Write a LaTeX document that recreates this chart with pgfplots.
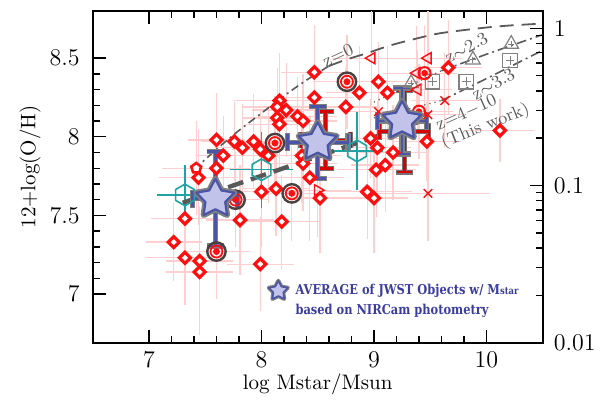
\documentclass[border=0pt]{standalone}
\usepackage{pgfplots}
\pgfplotsset{compat=1.18}
\usepackage{pgfplotstable}
\usepackage{fontspec}
\newfontfamily\slabfont[FakeStretch=0.84]{DejaVu Serif}
\usetikzlibrary{plotmarks}

\definecolor{dred}{HTML}{FF1010}
\definecolor{pinkerr}{HTML}{FFCFCF}
\definecolor{tealc}{HTML}{1FA3A3}
\definecolor{starfill}{HTML}{C2C3EA}
\definecolor{starblue}{HTML}{4B55A6}
\definecolor{ringgray}{HTML}{4A4040}
\definecolor{curvegray}{HTML}{5A5A5A}
\definecolor{lblue}{HTML}{3A3C9E}

\pgfdeclareplotmark{fstar}{%
  \pgfpathmoveto{\pgfpointpolar{90}{\pgfplotmarksize}}%
  \pgfpathlineto{\pgfpointpolar{126}{0.52\pgfplotmarksize}}%
  \pgfpathlineto{\pgfpointpolar{162}{\pgfplotmarksize}}%
  \pgfpathlineto{\pgfpointpolar{198}{0.52\pgfplotmarksize}}%
  \pgfpathlineto{\pgfpointpolar{234}{\pgfplotmarksize}}%
  \pgfpathlineto{\pgfpointpolar{270}{0.52\pgfplotmarksize}}%
  \pgfpathlineto{\pgfpointpolar{306}{\pgfplotmarksize}}%
  \pgfpathlineto{\pgfpointpolar{342}{0.52\pgfplotmarksize}}%
  \pgfpathlineto{\pgfpointpolar{18}{\pgfplotmarksize}}%
  \pgfpathlineto{\pgfpointpolar{54}{0.52\pgfplotmarksize}}%
  \pgfpathclose
  \pgfusepathqfillstroke}
\pgfdeclareplotmark{hexa}{%
  \pgfpathmoveto{\pgfpointpolar{90}{\pgfplotmarksize}}%
  \pgfpathlineto{\pgfpointpolar{150}{\pgfplotmarksize}}%
  \pgfpathlineto{\pgfpointpolar{210}{\pgfplotmarksize}}%
  \pgfpathlineto{\pgfpointpolar{270}{\pgfplotmarksize}}%
  \pgfpathlineto{\pgfpointpolar{330}{\pgfplotmarksize}}%
  \pgfpathlineto{\pgfpointpolar{30}{\pgfplotmarksize}}%
  \pgfpathclose
  \pgfusepathqstroke}

\pgfplotsset{
  errs/.style n args={2}{draw=none, mark=none, forget plot,
    error bars/.cd, x dir=both, x explicit, y dir=both, y explicit,
    error bar style={draw=#1, line width=#2}, error mark=none},
  errsm/.style n args={4}{draw=none, mark=none, forget plot,
    error bars/.cd, x dir=both, x explicit, y dir=both, y explicit,
    error bar style={draw=#1, line width=#2}, error mark=-,
    error mark options={rotate=90, mark size=#3, draw=#1, line width=#4}},
}

% red diamonds: x y ex ey
\pgfplotstableread{
x y ex ey
7.60 7.98 0.25 0.30
7.76 7.97 0.30 0.25
7.83 7.93 0.25 0.28
7.93 7.97 0.30 0.30
7.60 7.80 0.30 0.35
7.66 7.88 0.25 0.25
7.44 7.74 0.35 0.30
8.47 8.41 0.30 0.30
8.47 8.25 0.35 0.30
8.16 8.23 0.40 0.30
8.14 8.19 0.30 0.25
8.22 8.17 0.30 0.30
8.32 8.13 0.35 0.25
8.14 8.12 0.30 0.25
8.16 8.08 0.30 0.30
8.75 8.19 0.30 0.25
8.06 7.88 0.30 0.30
8.36 7.88 0.35 0.30
8.37 7.83 0.30 0.30
8.43 7.74 0.30 0.40
7.32 7.48 0.30 0.30
7.22 7.33 0.25 0.25
7.32 7.23 0.35 0.30
7.45 7.21 0.30 0.35
7.45 7.14 0.30 0.40
7.81 7.47 0.30 0.35
8.00 7.65 0.35 0.35
8.13 7.67 0.30 0.30
8.18 7.46 0.35 0.30
7.99 7.19 0.30 0.30
8.52 7.61 0.30 0.35
9.02 7.79 0.35 0.30
9.10 7.82 0.30 0.30
8.94 7.65 0.40 0.30
9.00 7.61 0.30 0.35
9.04 8.35 0.35 0.25
9.12 8.28 0.30 0.30
8.87 8.28 0.30 0.30
8.37 8.10 0.30 0.30
8.97 7.99 0.30 0.25
9.03 7.93 0.30 0.30
9.66 8.44 0.30 0.30
10.12 8.04 0.30 0.20
9.17 7.90 0.30 0.30
7.99 7.92 0.25 0.25
9.47 7.97 0.30 0.25
}\diam

% other red symbols with pink errors
\pgfplotstableread{
x y ex ey
7.42 7.80 0.30 0.30
8.98 8.50 0.35 0.30
9.48 8.50 0.30 0.30
9.39 8.30 0.30 0.25
9.38 8.405 0.30 0.30
8.50 7.66 0.30 0.30
9.63 8.23 0.30 0.30
9.48 8.14 0.30 0.25
9.04 8.16 0.30 0.25
9.48 7.64 0.55 0.30
9.45 8.405 0.30 0.30
9.40 8.16 0.30 0.30
8.12 7.96 0.35 0.30
8.76 8.35 0.30 0.30
8.27 7.64 0.30 0.30
7.60 7.27 0.30 0.30
7.77 7.60 0.30 0.30
}\others

\pgfplotstableread{
x y
7.42 7.80
}\pent
\pgfplotstableread{
x y
8.98 8.50
9.48 8.50
9.39 8.30
9.38 8.405
}\ltri
\pgfplotstableread{
x y
8.50 7.66
}\rtri
\pgfplotstableread{
x y
9.63 8.23
9.48 8.14
9.04 8.16
9.48 7.64
}\crosses
\pgfplotstableread{
x y
9.45 8.405
9.40 8.16
}\rcirc
\pgfplotstableread{
x y
8.12 7.96
8.76 8.35
8.27 7.64
7.60 7.27
7.77 7.60
}\bulls

% teal hexagons
\pgfplotstableread{
x y ex ey
7.32 7.63 0.25 0.19
8.00 7.79 0.28 0.24
8.85 7.91 0.23 0.25
}\hexd

% gray triangles (z~2.3) and squares (z~3.3)
\pgfplotstableread{
x y
9.88 8.49
10.22 8.59
9.33 8.34
}\gtri
\pgfplotstableread{
x y
9.52 8.35
9.82 8.35
10.21 8.485
}\gsq

% red big error bars
\pgfplotstableread{
x y ex ey
8.57 7.98 0.22 0.18
9.27 8.035 0.22 0.26
}\redbig

% average of JWST objects
\pgfplotstableread{
x y ex ey
7.59 7.605 0.20 0.30
8.50 7.965 0.27 0.23
9.25 8.10 0.22 0.21
}\avg

\begin{document}
\begin{tikzpicture}
\useasboundingbox (-46.35pt,-32.65pt) rectangle (260.15pt,171.35pt);
\begin{axis}[
  at={(0,0)}, anchor=south west,
  scale only axis, width=225pt, height=165.85pt,
  xmin=6.5, xmax=10.5, ymin=6.69, ymax=8.8,
  xtick={7,8,9,10}, minor x tick num=4,
  ytick={7,7.5,8,8.5}, minor y tick num=4,
  ytick pos=left,
  tick align=inside,
  major tick length=6.5pt, minor tick length=3.5pt,
  every tick/.style={black, line width=0.7pt},
  axis line style={line width=1pt},
  tick label style={font=\fontsize{12}{14}\selectfont},
  yticklabel style={xshift=-3pt},
  xticklabel style={yshift=-1pt},
  xlabel={log Mstar/Msun},
  ylabel={12+log(O/H)},
  label style={font=\fontsize{10.5}{13}\selectfont},
  xlabel style={at={(axis description cs:0.5,-0.1245)}, anchor=center},
  ylabel style={at={(axis description cs:-0.139,0.53)}, anchor=center},
  clip=true,
]
% pink error bars
\addplot[errs={pinkerr}{0.6pt}] table[x=x,y=y,x error=ex,y error=ey]{\diam};
\addplot[errs={pinkerr}{0.6pt}] table[x=x,y=y,x error=ex,y error=ey]{\others};
% teal error bars
\addplot[errs={tealc}{0.6pt}] table[x=x,y=y,x error=ex,y error=ey]{\hexd};

% curves: z=0
\addplot[curvegray, line width=0.8pt, dash pattern=on 4pt off 2pt on 1pt off 2pt, smooth] coordinates {
(7.4,7.79) (7.6,7.92) (7.8,8.04) (8.0,8.15) (8.2,8.26) (8.4,8.36) (8.6,8.45)};
\addplot[curvegray, line width=0.9pt, dash pattern=on 7pt off 4pt, smooth] coordinates {
(8.6,8.45) (8.75,8.49) (8.93,8.53) (9.14,8.58) (9.35,8.62) (9.56,8.655) (9.76,8.675) (10.0,8.695) (10.21,8.708) (10.5,8.72)};
% z~2.3
\addplot[curvegray, line width=0.6pt, dotted] coordinates {(9.0,8.22) (9.6,8.42)};
\addplot[curvegray, line width=0.8pt, dash pattern=on 5pt off 2pt on 1pt off 2pt] coordinates {(9.6,8.42) (10.0,8.525) (10.5,8.65)};
% z~3.3
\addplot[curvegray, line width=0.6pt, dotted] coordinates {(9.0,8.12) (9.6,8.23)};
\addplot[curvegray, line width=0.8pt, dash pattern=on 5pt off 2pt on 1pt off 2pt] coordinates {(9.6,8.23) (10.0,8.37) (10.5,8.55)};

% gray triangles and squares
\addplot[only marks, mark=triangle, mark size=4.2pt, mark options={draw=gray, line width=0.6pt}] table{\gtri};
\addplot[only marks, mark=+, mark size=1.6pt, mark options={draw=gray, line width=0.5pt}] table{\gtri};
\addplot[only marks, mark=square, mark size=3.6pt, mark options={draw=gray, line width=0.6pt}] table{\gsq};
\addplot[only marks, mark=+, mark size=2.2pt, mark options={draw=gray, line width=0.5pt}] table{\gsq};

% red symbols
\addplot[only marks, mark=square*, mark size=1.95pt, mark options={rotate=45, draw=dred, fill=white, line width=1.6pt}] table[x=x,y=y]{\diam};
\addplot[only marks, mark=pentagon*, mark size=2.6pt, mark options={draw=dred, fill=white, line width=1.3pt}] table{\pent};
\addplot[only marks, mark=triangle, mark size=3.2pt, mark options={rotate=90, draw=dred, fill=none, line width=0.7pt}] table{\ltri};
\addplot[only marks, mark=triangle, mark size=3.2pt, mark options={rotate=-90, draw=dred, fill=none, line width=0.7pt}] table{\rtri};
\addplot[only marks, mark=x, mark size=3pt, mark options={draw=dred, line width=0.7pt}] table{\crosses};
\addplot[only marks, mark=o, mark size=3pt, mark options={draw=dred, fill=white, line width=1pt}] table{\rcirc};
\addplot[only marks, mark=*, mark size=1.4pt, mark options={draw=dred, fill=dred}] table{\rcirc};
% bullseyes
\addplot[only marks, mark=o, mark size=4.6pt, mark options={draw=ringgray, fill=white, line width=1.2pt}] table{\bulls};
\addplot[only marks, mark=o, mark size=3.0pt, mark options={draw=dred, line width=0.9pt}] table{\bulls};
\addplot[only marks, mark=*, mark size=1.5pt, mark options={draw=dred, fill=dred}] table{\bulls};

% teal hexagons
\addplot[only marks, mark=hexa, mark size=5.4pt, mark options={draw=tealc, line width=0.8pt}] table[x=x,y=y]{\hexd};

% z=4-10 thick dashed
\addplot[draw=black!65, line width=2.2pt, dash pattern=on 8pt off 4pt] coordinates {(7.3,7.58) (9.5,8.12)};

% red big error bars
\addplot[errsm={black!55}{2.4pt}{4.2pt}{2.4pt}] table[x=x,y=y,x error=ex,y error=ey]{\redbig};
\addplot[errsm={red!85!black}{1.3pt}{3.8pt}{1.3pt}] table[x=x,y=y,x error=ex,y error=ey]{\redbig};

% average stars
\addplot[errsm={black!50}{2.6pt}{4.4pt}{2.6pt}] table[x=x,y=y,x error=ex,y error=ey]{\avg};
\addplot[errsm={starblue}{1.4pt}{4pt}{1.4pt}] table[x=x,y=y,x error=ex,y error=ey]{\avg};
\addplot[only marks, mark=fstar, mark size=10pt, mark options={draw=black!50, fill=starfill, line width=3pt, line join=round}] table[x=x,y=y]{\avg};
\addplot[only marks, mark=fstar, mark size=10pt, mark options={draw=starblue, fill=starfill, line width=1.1pt, line join=round}] table[x=x,y=y]{\avg};

% legend star
\addplot[only marks, mark=fstar, mark size=5pt, mark options={draw=black!50, fill=starfill, line width=2pt, line join=round}] coordinates {(8.15,7.02)};
\addplot[only marks, mark=fstar, mark size=5pt, mark options={draw=starblue, fill=starfill, line width=0.8pt, line join=round}] coordinates {(8.15,7.02)};

% labels
\node[curvegray, rotate=25, font=\fontsize{9}{11}\selectfont] at (axis cs:8.68,8.52) {z=0};
\node[curvegray, rotate=28, font=\fontsize{9}{11}\selectfont] at (axis cs:9.82,8.565) {z$\sim$2.3};
\node[curvegray, rotate=29, font=\fontsize{9}{11}\selectfont] at (axis cs:10.06,8.335) {z$\sim$3.3};
\node[curvegray, rotate=24, font=\fontsize{9}{11}\selectfont] at (axis cs:9.82,8.156) {z=4$-$10};
\node[curvegray, rotate=22, font=\fontsize{8.8}{11}\selectfont] at (axis cs:9.99,8.067) {(This work)};
\node[lblue, anchor=west, font=\slabfont\bfseries\fontsize{6.8}{8}\selectfont, inner sep=0pt] at (axis cs:8.30,7.02) {AVERAGE of JWST Objects w/ M{\fontsize{5}{6}\selectfont star}};
\node[lblue, anchor=west, font=\slabfont\bfseries\fontsize{6.8}{8}\selectfont, inner sep=0pt] at (axis cs:8.30,6.893) {based on NIRCam photometry};
\end{axis}
\begin{axis}[
  at={(0,0)}, anchor=south west,
  scale only axis, width=225pt, height=165.85pt,
  xmin=6.5, xmax=10.5, ymode=log, ymin=0.01, ymax=1.2882,
  xtick=\empty, ytick pos=right,
  ytick={0.01,0.1,1}, yticklabels={0.01,0.1,1},
  tick align=inside,
  major tick length=6.5pt, minor tick length=3.5pt,
  every tick/.style={black, line width=0.7pt},
  axis line style={draw=none},
  tick label style={font=\fontsize{12}{14}\selectfont},
  yticklabel style={xshift=2pt},
]
\node[rotate=-90, font=\fontsize{10}{12}\selectfont] at (axis description cs:1.125,0.5) {Z\raisebox{-0.3ex}{\fontsize{7.5}{9}\selectfont sun}};
\end{axis}
\end{tikzpicture}
\end{document}
